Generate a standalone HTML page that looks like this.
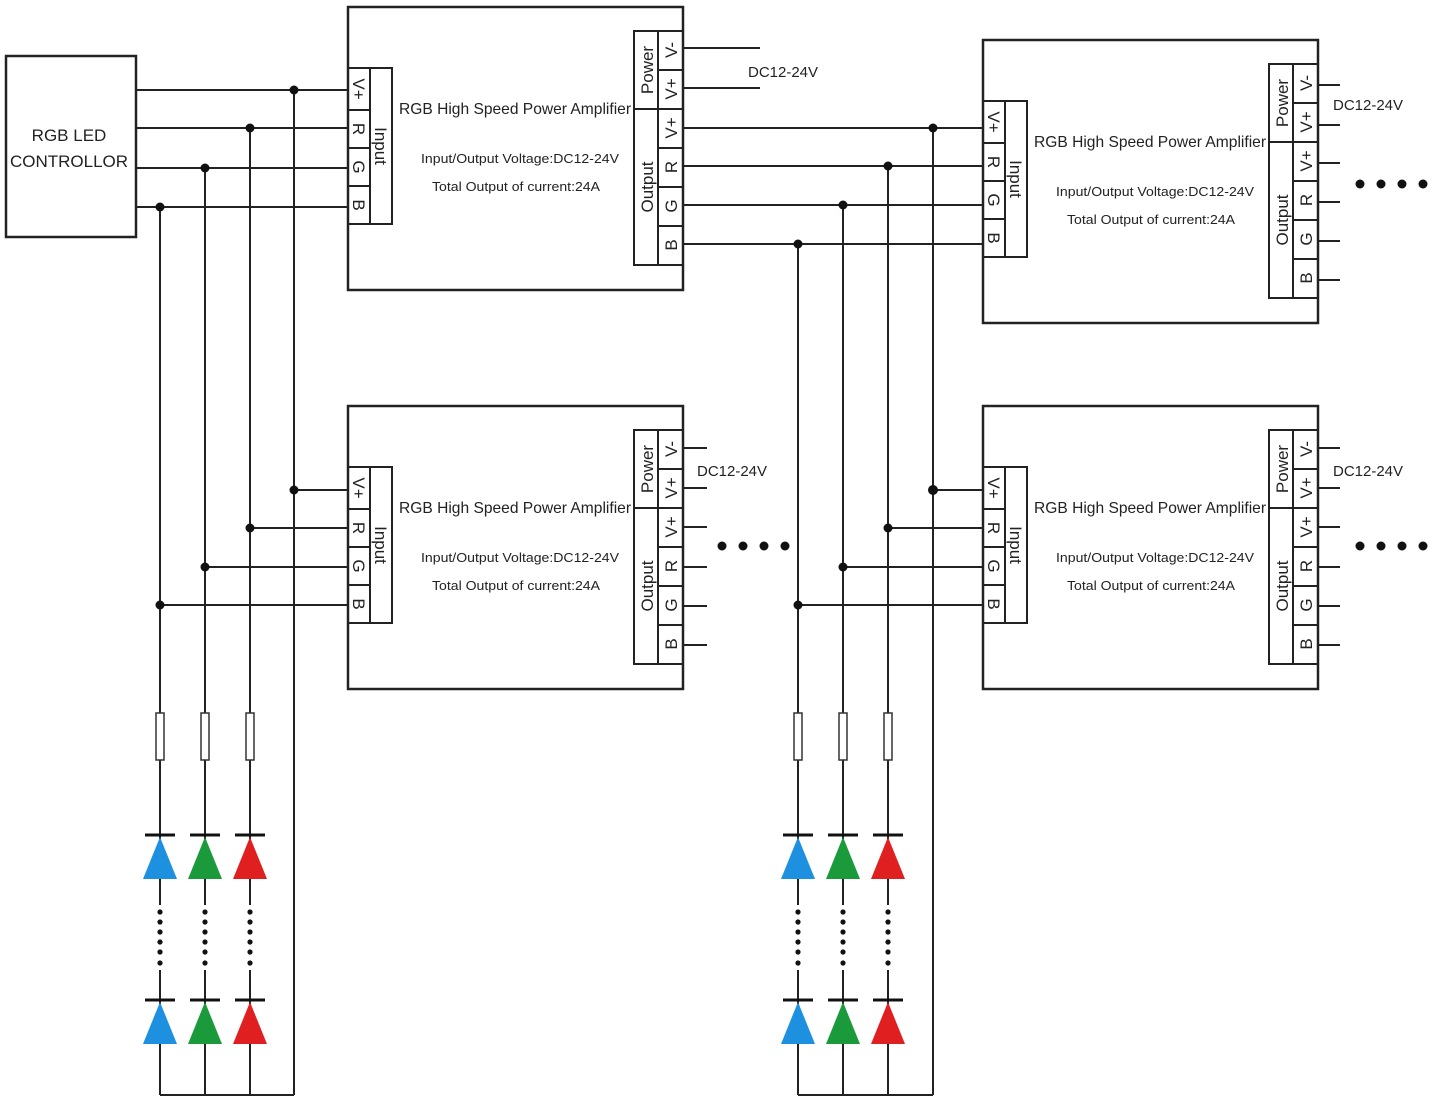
<!DOCTYPE html>
<html><head><meta charset="utf-8"><style>
html,body{margin:0;padding:0;background:#fff;}
svg{display:block;}
text{font-family:"Liberation Sans",sans-serif;fill:#222;}
</style></head><body>
<svg width="1430" height="1105" viewBox="0 0 1430 1105" xmlns="http://www.w3.org/2000/svg">
<defs>
<g id="amp">
  <rect x="0" y="0" width="335" height="283" fill="#fff" stroke="#222" stroke-width="2.5"/>
  <rect x="0" y="61" width="44" height="156" fill="none" stroke="#222" stroke-width="2"/>
  <line x1="22" y1="61" x2="22" y2="217" stroke="#222" stroke-width="2"/>
  <line x1="0" y1="103" x2="22" y2="103" stroke="#222" stroke-width="2"/>
  <line x1="0" y1="141" x2="22" y2="141" stroke="#222" stroke-width="2"/>
  <line x1="0" y1="179" x2="22" y2="179" stroke="#222" stroke-width="2"/>
  <g font-size="17">
    <text transform="translate(5,82) rotate(90)" text-anchor="middle">V+</text>
    <text transform="translate(5,122) rotate(90)" text-anchor="middle">R</text>
    <text transform="translate(5,160) rotate(90)" text-anchor="middle">G</text>
    <text transform="translate(5,198) rotate(90)" text-anchor="middle">B</text>
    <text transform="translate(27,139) rotate(90)" text-anchor="middle">Input</text>
  </g>
  <rect x="286" y="24" width="49" height="234" fill="none" stroke="#222" stroke-width="2"/>
  <line x1="310" y1="24" x2="310" y2="258" stroke="#222" stroke-width="2"/>
  <line x1="286" y1="102" x2="335" y2="102" stroke="#222" stroke-width="2"/>
  <line x1="310" y1="63" x2="335" y2="63" stroke="#222" stroke-width="2"/>
  <line x1="310" y1="141" x2="335" y2="141" stroke="#222" stroke-width="2"/>
  <line x1="310" y1="180" x2="335" y2="180" stroke="#222" stroke-width="2"/>
  <line x1="310" y1="219" x2="335" y2="219" stroke="#222" stroke-width="2"/>
  <g font-size="17">
    <text transform="translate(329,43) rotate(-90)" text-anchor="middle">V-</text>
    <text transform="translate(329,82) rotate(-90)" text-anchor="middle">V+</text>
    <text transform="translate(329,121) rotate(-90)" text-anchor="middle">V+</text>
    <text transform="translate(329,160) rotate(-90)" text-anchor="middle">R</text>
    <text transform="translate(329,199) rotate(-90)" text-anchor="middle">G</text>
    <text transform="translate(329,238) rotate(-90)" text-anchor="middle">B</text>
    <text transform="translate(305,63) rotate(-90)" text-anchor="middle">Power</text>
    <text transform="translate(305,180) rotate(-90)" text-anchor="middle">Output</text>
  </g>
  <text x="167" y="107" font-size="16" text-anchor="middle" textLength="232" lengthAdjust="spacingAndGlyphs">RGB  High  Speed Power Amplifier</text>
  <text x="172" y="156" font-size="13" text-anchor="middle" textLength="198" lengthAdjust="spacingAndGlyphs">Input/Output Voltage:DC12-24V</text>
  <text x="168" y="184" font-size="13" text-anchor="middle" textLength="168" lengthAdjust="spacingAndGlyphs">Total Output of current:24A</text>
</g>
<g id="leds">
  <rect x="-4" y="713" width="8" height="47" fill="#fff" stroke="#333" stroke-width="1.5"/>
  <line x1="-15" y1="835" x2="15" y2="835" stroke="#111" stroke-width="3"/>
  <line x1="-15" y1="1000" x2="15" y2="1000" stroke="#111" stroke-width="3"/>
  <g fill="#111">
    <circle cx="0" cy="912" r="2.6"/><circle cx="0" cy="922" r="2.6"/><circle cx="0" cy="932" r="2.6"/>
    <circle cx="0" cy="942" r="2.6"/><circle cx="0" cy="952" r="2.6"/><circle cx="0" cy="963" r="2.6"/>
  </g>
</g>
</defs>

<g stroke="#222" stroke-width="2" fill="none">
  <rect x="6" y="56" width="130" height="181" stroke-width="2.5"/>
  <line x1="136" y1="90" x2="348" y2="90"/>
  <line x1="136" y1="128" x2="348" y2="128"/>
  <line x1="136" y1="168" x2="348" y2="168"/>
  <line x1="136" y1="207" x2="348" y2="207"/>
  <line x1="294" y1="490" x2="348" y2="490"/>
  <line x1="250" y1="528" x2="348" y2="528"/>
  <line x1="205" y1="567" x2="348" y2="567"/>
  <line x1="160" y1="605" x2="348" y2="605"/>
  <line x1="294" y1="90" x2="294" y2="1095"/>
  <line x1="250" y1="128" x2="250" y2="1095"/>
  <line x1="205" y1="168" x2="205" y2="1095"/>
  <line x1="160" y1="207" x2="160" y2="1095"/>
  <line x1="160" y1="1095" x2="294" y2="1095"/>
  <line x1="683" y1="48" x2="760" y2="48"/>
  <line x1="683" y1="88" x2="760" y2="88"/>
  <line x1="683" y1="128" x2="983" y2="128"/>
  <line x1="683" y1="166" x2="983" y2="166"/>
  <line x1="683" y1="205" x2="983" y2="205"/>
  <line x1="683" y1="244" x2="983" y2="244"/>
  <line x1="933" y1="128" x2="933" y2="1095"/>
  <line x1="888" y1="166" x2="888" y2="1095"/>
  <line x1="843" y1="205" x2="843" y2="1095"/>
  <line x1="798" y1="244" x2="798" y2="1095"/>
  <line x1="798" y1="1095" x2="933" y2="1095"/>
  <line x1="933" y1="490" x2="983" y2="490"/>
  <line x1="888" y1="528" x2="983" y2="528"/>
  <line x1="843" y1="567" x2="983" y2="567"/>
  <line x1="798" y1="605" x2="983" y2="605"/>
  <line x1="683" y1="448" x2="707" y2="448"/><line x1="683" y1="488" x2="707" y2="488"/>
  <line x1="683" y1="527" x2="707" y2="527"/><line x1="683" y1="567" x2="707" y2="567"/>
  <line x1="683" y1="606" x2="707" y2="606"/><line x1="683" y1="645" x2="707" y2="645"/>
  <line x1="1316" y1="85" x2="1340" y2="85"/><line x1="1316" y1="125" x2="1340" y2="125"/>
  <line x1="1316" y1="163" x2="1340" y2="163"/><line x1="1316" y1="202" x2="1340" y2="202"/>
  <line x1="1316" y1="241" x2="1340" y2="241"/><line x1="1316" y1="280" x2="1340" y2="280"/>
  <line x1="1316" y1="448" x2="1340" y2="448"/><line x1="1316" y1="488" x2="1340" y2="488"/>
  <line x1="1316" y1="527" x2="1340" y2="527"/><line x1="1316" y1="567" x2="1340" y2="567"/>
  <line x1="1316" y1="606" x2="1340" y2="606"/><line x1="1316" y1="645" x2="1340" y2="645"/>
</g>

<use href="#amp" x="348" y="7"/>
<use href="#amp" x="348" y="406"/>
<use href="#amp" x="983" y="40"/>
<use href="#amp" x="983" y="406"/>

<text x="69" y="141" font-size="17" text-anchor="middle">RGB LED</text>
<text x="69" y="167" font-size="17" text-anchor="middle">CONTROLLOR</text>
<text x="748" y="77" font-size="15">DC12-24V</text>
<text x="697" y="476" font-size="15">DC12-24V</text>
<text x="1333" y="110" font-size="15">DC12-24V</text>
<text x="1333" y="476" font-size="15">DC12-24V</text>

<g fill="#111">
  <circle cx="294" cy="90" r="4.5"/><circle cx="250" cy="128" r="4.5"/><circle cx="205" cy="168" r="4.5"/><circle cx="160" cy="207" r="4.5"/>
  <circle cx="294" cy="490" r="4.5"/><circle cx="250" cy="528" r="4.5"/><circle cx="205" cy="567" r="4.5"/><circle cx="160" cy="605" r="4.5"/>
  <circle cx="933" cy="128" r="4.5"/><circle cx="888" cy="166" r="4.5"/><circle cx="843" cy="205" r="4.5"/><circle cx="798" cy="244" r="4.5"/>
  <circle cx="933" cy="490" r="5"/><circle cx="888" cy="528" r="4.5"/><circle cx="843" cy="567" r="4.5"/><circle cx="798" cy="605" r="4.5"/>
  <circle cx="722" cy="546" r="4.5"/><circle cx="743" cy="546" r="4.5"/><circle cx="764" cy="546" r="4.5"/><circle cx="785" cy="546" r="4.5"/>
  <circle cx="1360" cy="184" r="4.5"/><circle cx="1381" cy="184" r="4.5"/><circle cx="1402" cy="184" r="4.5"/><circle cx="1423" cy="184" r="4.5"/>
  <circle cx="1360" cy="546" r="4.5"/><circle cx="1381" cy="546" r="4.5"/><circle cx="1402" cy="546" r="4.5"/><circle cx="1423" cy="546" r="4.5"/>
</g>

<g stroke="#fff" stroke-width="4">
  <line x1="160" y1="905" x2="160" y2="970"/><line x1="205" y1="905" x2="205" y2="970"/><line x1="250" y1="905" x2="250" y2="970"/>
  <line x1="798" y1="905" x2="798" y2="970"/><line x1="843" y1="905" x2="843" y2="970"/><line x1="888" y1="905" x2="888" y2="970"/>
</g>
<use href="#leds" x="160"/><use href="#leds" x="205"/><use href="#leds" x="250"/>
<use href="#leds" x="798"/><use href="#leds" x="843"/><use href="#leds" x="888"/>
<g>
  <polygon points="160,837 143,879 177,879" fill="#1e90e0"/>
  <polygon points="205,837 188,879 222,879" fill="#1a9a3a"/>
  <polygon points="250,837 233,879 267,879" fill="#e02020"/>
  <polygon points="160,1002 143,1044 177,1044" fill="#1e90e0"/>
  <polygon points="205,1002 188,1044 222,1044" fill="#1a9a3a"/>
  <polygon points="250,1002 233,1044 267,1044" fill="#e02020"/>
  <polygon points="798,837 781,879 815,879" fill="#1e90e0"/>
  <polygon points="843,837 826,879 860,879" fill="#1a9a3a"/>
  <polygon points="888,837 871,879 905,879" fill="#e02020"/>
  <polygon points="798,1002 781,1044 815,1044" fill="#1e90e0"/>
  <polygon points="843,1002 826,1044 860,1044" fill="#1a9a3a"/>
  <polygon points="888,1002 871,1044 905,1044" fill="#e02020"/>
</g>
</svg>
</body></html>
